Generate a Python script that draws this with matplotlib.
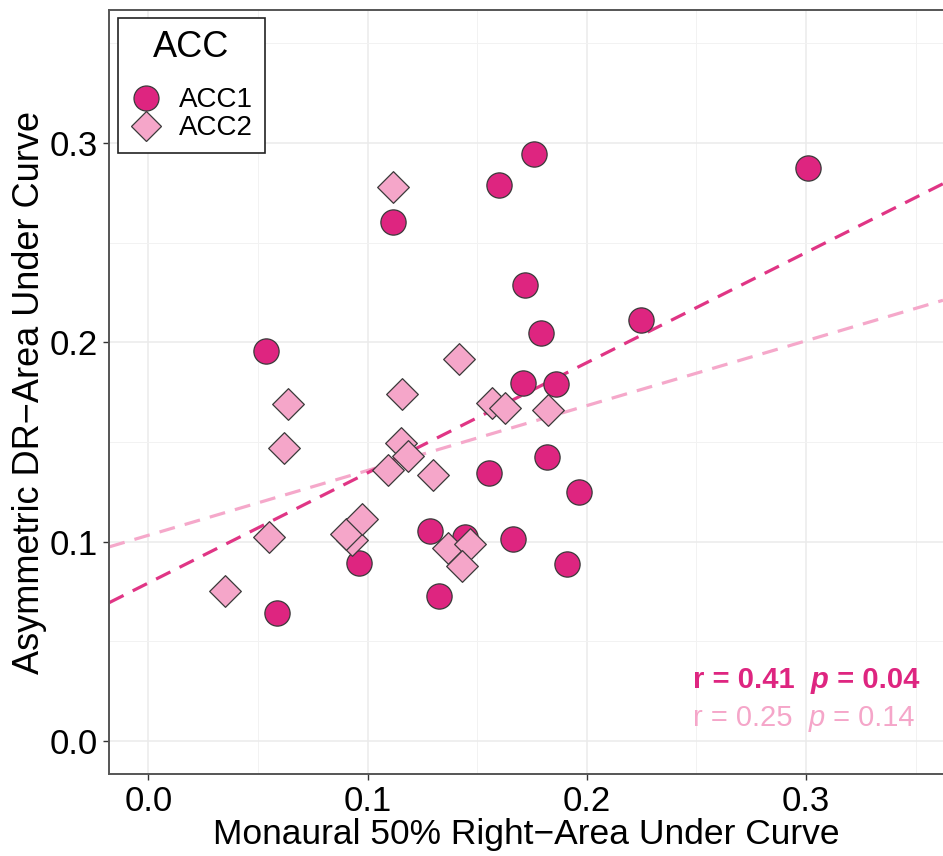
import numpy as np
import matplotlib
matplotlib.use("Agg")
import matplotlib.pyplot as plt
from matplotlib.lines import Line2D

plt.rcParams['font.family'] = ['Liberation Sans', 'DejaVu Sans']

# ACC1 group
acc1_x = [0.0537, 0.0586, 0.0963, 0.1117, 0.1285, 0.1328, 0.1445, 0.1556, 0.1600, 0.1760,
          0.1665, 0.1719, 0.1711, 0.1790, 0.1859, 0.1817, 0.1965, 0.1912, 0.2248, 0.3010]
acc1_y = [0.1958, 0.0643, 0.0894, 0.2604, 0.1053, 0.0726, 0.1024, 0.1345, 0.2790, 0.2945,
          0.1013, 0.2288, 0.1794, 0.2045, 0.1789, 0.1423, 0.1250, 0.0887, 0.2112, 0.2875]

# ACC2 group
acc2_x = [0.0350, 0.0552, 0.0620, 0.0636, 0.0929, 0.0900, 0.0976, 0.1095, 0.1153, 0.1183,
          0.1300, 0.1159, 0.1419, 0.1369, 0.1468, 0.1432, 0.1569, 0.1627, 0.1822, 0.1117]
acc2_y = [0.0751, 0.1024, 0.1468, 0.1689, 0.1008, 0.1038, 0.1113, 0.1359, 0.1496, 0.1429,
          0.1334, 0.1740, 0.1916, 0.0966, 0.0987, 0.0877, 0.1697, 0.1672, 0.1660, 0.2780]

stats1 = ("0.41", "0.04")
stats2 = ("0.25", "0.14")

c1 = "#DE2580"
c2 = "#F5A6C9"
c1_line = "#E03585"
c2_line = "#F5A8CA"

fig = plt.figure(figsize=(9.43, 8.56), dpi=100)
ax = fig.add_axes([0.1159, 0.0958, 0.8841, 0.8925])

xlim = (-0.0178, 0.3625)
ylim = (-0.0167, 0.3668)
ax.set_xlim(*xlim)
ax.set_ylim(*ylim)

ax.set_xticks([0.0, 0.1, 0.2, 0.3])
ax.set_yticks([0.0, 0.1, 0.2, 0.3])
ax.set_xticks(np.arange(0.05, 0.36, 0.1), minor=True)
ax.set_yticks(np.arange(0.05, 0.36, 0.1), minor=True)
ax.grid(which='major', color='#EBEBEB', lw=1.1)
ax.grid(which='minor', color='#F2F2F2', lw=0.7)
ax.set_axisbelow(True)
ax.tick_params(which='major', length=4, width=1, color='#333333', labelsize=25, pad=4)
ax.tick_params(which='minor', length=0)
ax.set_xticklabels(['0.0', '0.1', '0.2', '0.3'])
ax.set_yticklabels(['0.0', '0.1', '0.2', '0.3'])

for side in ['left', 'top', 'bottom']:
    ax.spines[side].set_color('#555555')
    ax.spines[side].set_linewidth(1.4)
ax.spines['right'].set_visible(False)

# linear fits over the full axis range
xs = np.array(xlim)
for gx, gy, col in [(acc2_x, acc2_y, c2_line), (acc1_x, acc1_y, c1_line)]:
    k, b = np.polyfit(gx, gy, 1)
    ax.plot(xs, k * xs + b, color=col, lw=2.3, ls=(0, (5, 3.2)), zorder=2)

ax.scatter(acc1_x, acc1_y, s=330, marker='o', facecolor=c1, edgecolor='#3a3a3a',
           linewidth=0.9, zorder=3)
ax.scatter(acc2_x, acc2_y, s=260, marker='D', facecolor=c2, edgecolor='#3a3a3a',
           linewidth=0.9, zorder=3)

ax.set_xlabel("Monaural 50% Right\u2212Area Under Curve", fontsize=25.5, labelpad=0)
ax.set_ylabel("Asymmetric DR\u2212Area Under Curve", fontsize=26, labelpad=2)

handles = [
    Line2D([], [], ls='none', marker='o', markersize=18, markerfacecolor=c1,
           markeredgecolor='#3a3a3a', markeredgewidth=0.9),
    Line2D([], [], ls='none', marker='D', markersize=15.5, markerfacecolor=c2,
           markeredgecolor='#3a3a3a', markeredgewidth=0.9),
]
leg = ax.legend(handles, ['ACC1', 'ACC2'], title='ACC', loc='upper left',
                bbox_to_anchor=(0.0, 1.0), borderaxespad=0.3, fontsize=20,
                title_fontsize=26, fancybox=False, framealpha=1,
                handletextpad=0.6, labelspacing=0.08, borderpad=0.42,
                handlelength=1.2)
leg._legend_box.sep = 16
leg.get_frame().set_edgecolor('#222222')
leg.get_frame().set_linewidth(1.2)

# correlation labels
x0 = 0.2485
for (r, p), y0, col, wt in [(stats1, 0.0265, c1, 'bold'), (stats2, 0.0072, c2, 'normal')]:
    t1 = ax.text(x0, y0, f"r = {r}  ", color=col, fontsize=21, fontweight=wt,
                 ha='left', va='baseline')
    t2 = ax.annotate("p", xy=(1, 0), xycoords=t1, color=col, fontsize=21,
                     fontweight=wt, fontstyle='italic', ha='left', va='bottom')
    ax.annotate(f" = {p}", xy=(1, 0), xycoords=t2, color=col, fontsize=21,
                fontweight=wt, ha='left', va='bottom')

fig.savefig("out.png", dpi=100)
